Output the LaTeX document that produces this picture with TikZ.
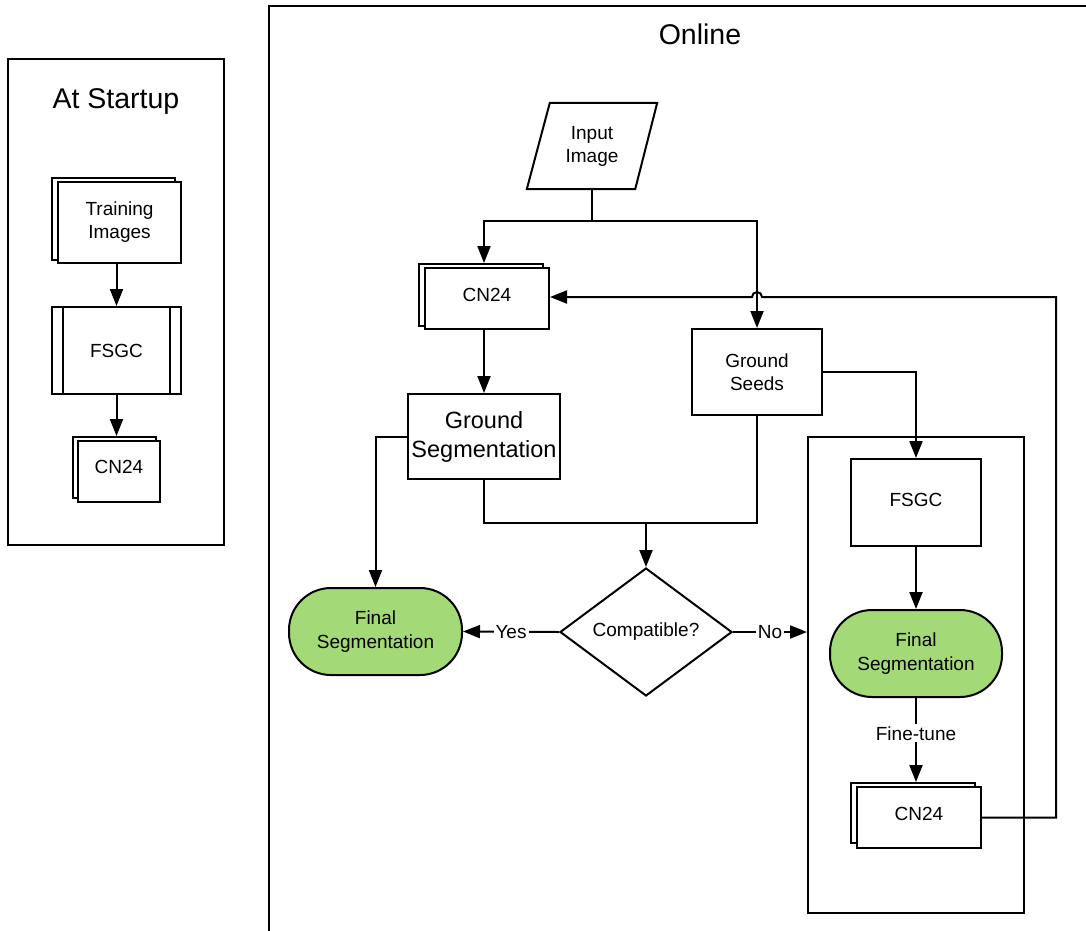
\documentclass[tikz,border=0pt]{standalone}
\usepackage{fontspec}
\setmainfont{Liberation Sans}
\usetikzlibrary{arrows.meta,shapes.geometric}
\definecolor{segreen}{HTML}{A3D977}
\begin{document}
\begin{tikzpicture}[x=1pt,y=-1pt,
  every node/.style={font=\fontsize{19}{23}\selectfont, align=center, inner sep=0pt},
  conn/.style={draw, line width=2pt},
  arr/.style={conn, -{Triangle[length=17pt,width=13pt]}},
  box/.style={draw, line width=2pt, fill=white},
  frame/.style={draw, line width=2pt},
  title/.style={font=\fontsize{28.5}{34}\selectfont},
  term/.style={draw, line width=2pt, fill=segreen, rounded corners=42pt,
    font=\fontsize{19}{24}\selectfont},
  lbl/.style={fill=white, inner sep=2pt}]
\useasboundingbox (0,0) rectangle (1086,930);
\clip (0,0) rectangle (1086,930);

% ---------- At startup ----------
\node[frame, minimum width=216pt, minimum height=486pt] (startup) at (116,302) {};
\node[title] (t1) at (116,102) {At Startup};
\node[box, minimum width=123pt, minimum height=82pt] (tiB) at (113.5,219) {};
\node[box, minimum width=123pt, minimum height=81pt] (ti) at (119.5,222) {Training\\Images};
\node[box, minimum width=129pt, minimum height=87pt] (fs1) at (116.5,350.5) {FSGC};
\draw[line width=2pt] ([xshift=12pt]fs1.north west) -- ([xshift=12pt]fs1.south west);
\draw[line width=2pt] ([xshift=-12pt]fs1.north east) -- ([xshift=-12pt]fs1.south east);
\node[box, minimum width=83pt, minimum height=61pt] (cn1B) at (114.5,467.5) {};
\node[box, minimum width=82pt, minimum height=61pt] (cn1) at (119,471.5) {\raisebox{9pt}{CN24}};
\draw[arr] (ti.south -| fs1.north) -- (fs1.north);
\draw[arr] (fs1.south) -- (fs1.south |- cn1B.north);

% ---------- Online ----------
\node[frame, minimum width=850pt, minimum height=960pt, anchor=north west] (online) at (268,5) {};
\node[title] (t2) at (700,34) {Online};

\node[minimum width=130pt, minimum height=86pt] (inp) at (592,146) {Input\\Image};
\draw[line width=2pt, line join=miter] ([xshift=23pt]inp.north west) -- (inp.north east)
  -- ([xshift=-22pt]inp.south east) -- (inp.south west) -- cycle;
\coordinate (fork) at (592,221);

\node[box, minimum width=124pt, minimum height=62pt] (cn2B) at (481,295) {};
\node[box, minimum width=124pt, minimum height=61pt] (cn2) at (487,298.5) {\raisebox{8pt}{CN24}};
\node[box, minimum width=130pt, minimum height=86pt] (gseeds) at (757,372) {Ground\\Seeds};
\node[box, minimum width=152pt, minimum height=85pt, font=\fontsize{23.5}{29}\selectfont] (gseg) at (484,436.5) {Ground\\Segmentation};
\node[term, minimum width=173pt, minimum height=87pt] (finL) at (375.5,631.5) {Final\\Segmentation};
\node[draw, line width=2pt, diamond, aspect=1.34, minimum width=172pt, minimum height=128pt, fill=white] (cmp) at (646,632) {Compatible?};
\coordinate (merge) at (646,523);

\node[frame, minimum width=216pt, minimum height=476pt] (tune) at (916,675) {};
\node[box, minimum width=130pt, minimum height=87pt] (fs2) at (916,502.5) {\raisebox{5pt}{FSGC}};
\node[term, minimum width=172pt, minimum height=87pt] (finR) at (916,653.5) {Final\\Segmentation};
\node[box, minimum width=124pt, minimum height=60pt] (cn3B) at (913,813) {};
\node[box, minimum width=124pt, minimum height=61pt] (cn3) at (919,817.5) {\raisebox{8pt}{CN24}};
\coordinate (ret) at (1056,297);

% connectors
\draw[conn] (inp.south) -- (fork);
\draw[arr] (fork) -| ([xshift=-3pt]cn2.north |- cn2B.north);
\draw[arr] (fork) -| (gseeds.north);
\draw[arr] ([xshift=-3pt]cn2.south) -- (gseg.north);
\draw[arr] (gseg.west) -| (finL.north);
\draw[conn] (gseg.south) |- (merge);
\draw[conn] (gseeds.south) |- (merge);
\draw[arr] (merge) -- (cmp.north);
\draw[arr] (cmp.west) -- node[lbl] {Yes} (finL.east);
\draw[arr] (cmp.east) -- node[lbl] {No} (cmp.east -| tune.west);
\draw[arr] (gseeds.east) -| (fs2.north);
\draw[arr] (fs2.south) -- (finR.north);
\draw[arr] (finR.south) -- node[lbl, pos=0.42] {Fine-tune} ([xshift=-3pt]cn3.north |- cn3B.north);
\draw[arr] (cn3.east) -| (ret) -- ([xshift=5pt]gseeds.north |- ret)
  arc[start angle=0, end angle=180, radius=5pt] -- (cn2.east |- ret);
\end{tikzpicture}
\end{document}
